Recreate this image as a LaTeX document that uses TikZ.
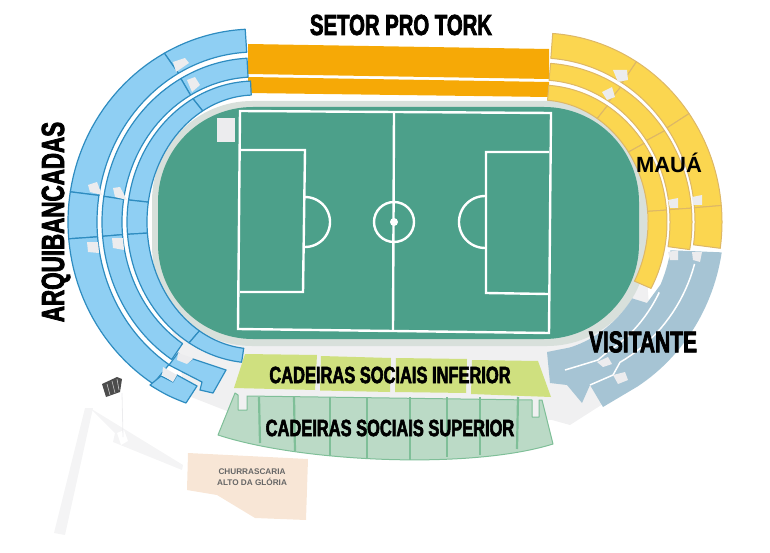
\documentclass[tikz,border=0pt]{standalone}
\usepackage{fontspec}
\setmainfont{Liberation Sans}
\newfontfamily\heavyfont[FakeStretch=0.7,FakeBold=2.4]{Liberation Sans Bold}
\newfontfamily\plainbold{Liberation Sans Bold}

\definecolor{seatblue}{HTML}{8FCFF3}
\definecolor{lineblue}{HTML}{2E8CC0}
\definecolor{seatyellow}{HTML}{FBD650}
\definecolor{linetan}{HTML}{DDB767}
\definecolor{seatgrey}{HTML}{A6C4D4}
\definecolor{seatorange}{HTML}{F6A906}
\definecolor{pitch}{HTML}{4CA08A}
\definecolor{rim}{HTML}{D8E0DB}
\definecolor{floorgrey}{HTML}{F0F0F1}
\definecolor{parkgrey}{HTML}{F4F4F5}
\definecolor{notchgrey}{HTML}{ECECEE}
\definecolor{lowerlime}{HTML}{CFE07F}
\definecolor{uppergreen}{HTML}{BBDAC6}
\definecolor{linegreen}{HTML}{7FBF98}
\definecolor{diner}{HTML}{F8E6D6}

\tikzset{
  blueseat/.style={fill=seatblue, draw=lineblue, line width=1.2pt, line join=round},
  yellowseat/.style={fill=seatyellow, draw=linetan, line width=1pt, line join=round},
  pitchline/.style={white, line width=2.4pt},
  notch/.style={fill=notchgrey},
  bigtext/.style={text=black, inner sep=0pt, font=\heavyfont}
}

% one piece of a ring: style, first angle, last angle, inner radii, outer radii
\newcommand{\band}[7]{\draw[#1] plot[domain=#2:#3, samples=24] ({#4*cos(\x)},{#5*sin(\x)}) -- plot[domain=#3:#2, samples=24] ({#6*cos(\x)},{#7*sin(\x)}) -- cycle;}

\begin{document}
\begin{tikzpicture}[x=1pt, y=-1pt]
\useasboundingbox (0,0) rectangle (770,553);

% ground
\fill[floorgrey] (157,250) -- (170,320) -- (186,395) -- (237,415) -- (552,420) -- (570,425) -- (606,402) -- (650,320) -- (645,250) -- cycle;
\fill[rim, rounded corners=100pt] (152,101) rectangle (647,346);
\fill[pitch, rounded corners=95pt] (158,107) rectangle (639,339);
\fill[notchgrey] (217,118) rectangle (235,142);

% pitch
\draw[pitchline] (240,111) -- (551,113) -- (549,333) -- (238,329) -- cycle;
\draw[pitchline] (394,113) -- (393,330);
\draw[pitchline] (241,150) -- (305,150) -- (303,292) -- (240,292);
\draw[pitchline] (549,152) -- (486,152) -- (486,293) -- (548,294);
\draw[pitchline] plot[domain=-90:90, samples=30] ({305+25*cos(\x)},{222+25*sin(\x)});
\draw[pitchline] plot[domain=90:270, samples=30] ({485+26*cos(\x)},{222+26*sin(\x)});
\draw[pitchline] (394,222) circle[radius=20pt];
\fill[white] (394,222) circle[radius=4pt];

% orange side
\fill[seatorange] (248,44) -- (549,49) -- (549,79) -- (248,74) -- cycle;
\fill[seatorange] (248,77) -- (549,82) -- (549,97) -- (248,93) -- cycle;

% left stand
\begin{scope}[shift={(255,222)}]
\band{blueseat}{241}{267}{158}{170}{187}{193}
\band{blueseat}{189}{241}{158}{170}{187}{193}
\band{blueseat}{175}{189}{158}{170}{187}{193}
\band{blueseat}{123}{175}{158}{170}{187}{193}
\band{blueseat}{241}{267}{133}{145}{153}{164}
\band{blueseat}{189}{241}{133}{145}{153}{164}
\band{blueseat}{175}{189}{133}{145}{153}{164}
\band{blueseat}{123}{175}{133}{145}{153}{164}
\band{blueseat}{241}{268}{108}{127}{128}{141}
\band{blueseat}{189}{241}{108}{127}{128}{141}
\band{blueseat}{175}{189}{108}{127}{128}{141}
\band{blueseat}{121}{175}{108}{127}{128}{141}
\band{blueseat}{96}{121}{108}{127}{128}{141}
\end{scope}
\draw[blueseat] (169,365) -- (178,353) -- (187,363) -- (193,359) -- (226,370) -- (213,393) -- (200,390) -- (202,382) -- cycle;
\draw[blueseat] (150,385) -- (161,376) -- (173,382) -- (177,375) -- (197,386) -- (186,403) to[bend left=6] cycle;

% notches of the left stand
\fill[notch] (173,62) -- (185,58) -- (189,63) -- (176,72) -- cycle;
\fill[notch] (187,80) -- (195,77) -- (200,85) -- (192,92) -- cycle;
\fill[notch] (88,185) -- (97,182) -- (102,195) -- (90,192) -- cycle;
\fill[notch] (113,188) -- (120,187) -- (127,200) -- (115,197) -- cycle;
\fill[notch] (87,242) -- (98,242) -- (99,253) -- (88,252) -- cycle;
\fill[notch] (112,238) -- (123,238) -- (124,250) -- (113,248) -- cycle;
\fill[notch] (178,353) -- (190,357) -- (193,359) -- (187,364) -- (177,360) -- cycle;
\fill[notch] (162,375) -- (163,367) -- (177,375) -- (173,382) -- cycle;

% right stand
\begin{scope}[shift={(540,222)}]
\band{yellowseat}{274}{302}{155}{164}{182}{189}
\band{yellowseat}{302}{325}{155}{164}{182}{189}
\band{yellowseat}{325}{355}{155}{164}{182}{189}
\band{yellowseat}{355}{368}{155}{164}{182}{189}
\band{yellowseat}{274}{302}{130}{142}{152}{159}
\band{yellowseat}{302}{325}{130}{142}{152}{159}
\band{yellowseat}{325}{355}{130}{142}{152}{159}
\band{yellowseat}{355}{370}{130}{142}{152}{159}
\band{yellowseat}{274}{302}{108}{122}{127}{137}
\band{yellowseat}{302}{325}{108}{122}{127}{137}
\band{yellowseat}{325}{355}{108}{122}{127}{137}
\band{yellowseat}{355}{389}{108}{122}{127}{137}
\end{scope}

% the visitors' block, cut by two white lines
\fill[seatgrey] plot[domain=9:58, samples=30] ({540+184*cos(\x)},{222+194*sin(\x)}) -- (603,407) -- (590,385) -- (582,403) -- (567,385) -- (550,383) -- (547,352) -- plot[domain=75:36, samples=20] ({540+114*cos(\x)},{222+130*sin(\x)}) -- (647,303) -- plot[domain=25:11, samples=10] ({540+133*cos(\x)},{222+148*sin(\x)}) -- cycle;
\draw[white, line width=1.5pt] plot[domain=28:60, samples=20] ({540+135*cos(\x)},{222+150*sin(\x)}) -- (598,360) -- (565,370);
\draw[white, line width=1.5pt] plot[domain=15:60, samples=20] ({540+160*cos(\x)},{222+162*sin(\x)}) -- (613,375) -- (590,385);

% notches of the right stand
\fill[notch] (613,70) -- (627,70) -- (628,80) -- (618,82) -- cycle;
\fill[notch] (602,92) -- (612,87) -- (615,97) -- (607,100) -- cycle;
\fill[notch] (668,200) -- (678,198) -- (678,208) -- (670,208) -- cycle;
\fill[notch] (692,197) -- (702,195) -- (702,205) -- (693,205) -- cycle;
\fill[notch] (668,252) -- (678,250) -- (678,260) -- (670,260) -- cycle;
\fill[notch] (692,252) -- (702,252) -- (700,262) -- (693,260) -- cycle;
\fill[notch] (597,362) -- (608,357) -- (612,364) -- (603,367) -- cycle;
\fill[notch] (613,375) -- (625,372) -- (628,380) -- (618,384) -- cycle;

% seats behind the goal line
\fill[lowerlime] (245,354) -- (317,355) -- (315,390) -- (234,388) -- cycle;
\fill[lowerlime] (321,356) -- (391,358) -- (390,392) -- (320,390.5) -- cycle;
\fill[lowerlime] (396,358) -- (467,359) -- (466,393) -- (395,392) -- cycle;
\fill[lowerlime] (472,360) -- (538,361) -- (551,397) -- (471,394) -- cycle;

\draw[fill=uppergreen, draw=linegreen, line width=1pt, line join=round] (235,393) -- (218,435) .. controls (300,462) and (470,470) .. (553,444) -- (542,400) -- (539,400) -- (539,417) -- (532,417) -- (532,400) -- (247,396) -- (247,410) -- (238,410) -- (238,395) -- cycle;
\foreach \xa/\xb/\yb in {259/260/443, 294/295/451, 330/330/456, 367/367/458, 410/410/460, 447/447/457, 480/480/455, 518/517/449}
  \draw[linegreen, line width=2.2pt] (\xa,397) -- (\xb,\yb);

% parking and flag
\fill[parkgrey] (85,408) -- (93,408) -- (65,535) -- (54,533) -- cycle;
\fill[parkgrey] (90,408) -- (183,465) -- (182,470) -- (113,442) -- (115,433) -- cycle;
\fill[white] (117,433) -- (124,430) -- (128,441) -- (121,445) -- cycle;
\draw[notchgrey, line width=0.8pt] (122,393) -- (123,437);
\fill[black!70] (102,384) -- (117,377) -- (122,379) -- (120,392) -- (106,397) -- cycle;
\draw[white!80!black, line width=0.6pt] (107,384) -- (110,395) (112,381) -- (115,393) (117,379) -- (119,390);
\fill[diner] (188,453) -- (308,459) -- (306,520) -- (255,518) -- (217,495) -- (187,490) -- cycle;

% labels
\node[bigtext] (protork) at (401,25) {\fontsize{29}{29}\selectfont SETOR PRO TORK};
\node[bigtext, rotate=90] (arquibancadas) at (56,222) {\fontsize{32}{32}\selectfont ARQUIBANCADAS};
\node[inner sep=0pt, font=\plainbold] (maua) at (669,163) {\fontsize{22}{22}\selectfont MAUÁ};
\node[bigtext] (visitante) at (643,342) {\fontsize{30}{30}\selectfont VISITANTE};
\node[bigtext] (inferior) at (390,375) {\fontsize{23.5}{24}\selectfont CADEIRAS SOCIAIS INFERIOR};
\node[bigtext] (superior) at (390,428) {\fontsize{23.5}{24}\selectfont CADEIRAS SOCIAIS SUPERIOR};
\node[align=center, text=black!60, inner sep=0pt, font=\plainbold\fontsize{8.2}{11}\selectfont] (diner) at (252,477) {CHURRASCARIA\\ALTO DA GLÓRIA};

\end{tikzpicture}
\end{document}
